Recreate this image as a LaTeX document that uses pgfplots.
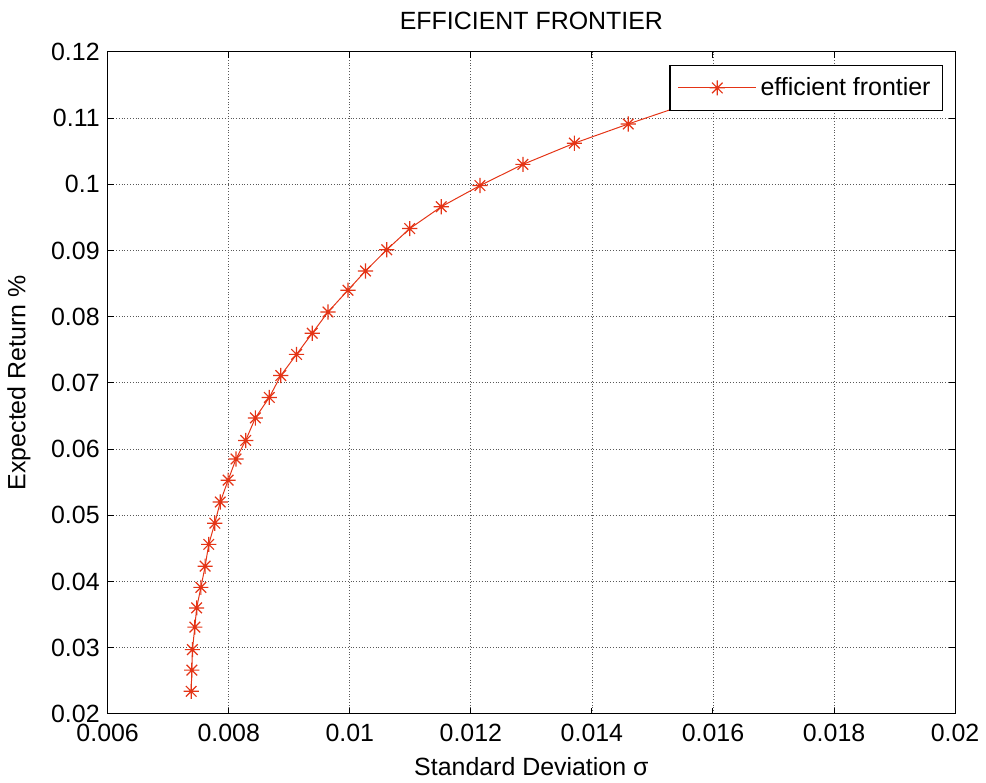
\documentclass[border=0pt]{standalone}
\usepackage{fontspec}
\setmainfont[Ligatures=NoCommon]{Liberation Sans}
\usepackage{pgfplots}
\pgfplotsset{compat=1.18}

% MATLAB-like '*' marker: plus and cross together
\pgfdeclareplotmark{mstar}{%
  \pgfpathmoveto{\pgfqpoint{-\pgfplotmarksize}{0pt}}%
  \pgfpathlineto{\pgfqpoint{\pgfplotmarksize}{0pt}}%
  \pgfpathmoveto{\pgfqpoint{0pt}{-\pgfplotmarksize}}%
  \pgfpathlineto{\pgfqpoint{0pt}{\pgfplotmarksize}}%
  \pgfpathmoveto{\pgfqpoint{-0.7\pgfplotmarksize}{-0.7\pgfplotmarksize}}%
  \pgfpathlineto{\pgfqpoint{0.7\pgfplotmarksize}{0.7\pgfplotmarksize}}%
  \pgfpathmoveto{\pgfqpoint{-0.7\pgfplotmarksize}{0.7\pgfplotmarksize}}%
  \pgfpathlineto{\pgfqpoint{0.7\pgfplotmarksize}{-0.7\pgfplotmarksize}}%
  \pgfusepathqstroke}

\definecolor{frontier}{RGB}{228,52,22}

\begin{document}
\begin{tikzpicture}
  \begin{axis}[
    scale only axis,
    width=425pt,
    height=332pt,
    xmin=0.006, xmax=0.02,
    ymin=0.02, ymax=0.12,
    xtick={0.006,0.008,0.01,0.012,0.014,0.016,0.018,0.02},
    xticklabels={0.006,0.008,0.01,0.012,0.014,0.016,0.018,0.02},
    ytick={0.02,0.03,0.04,0.05,0.06,0.07,0.08,0.09,0.1,0.11,0.12},
    yticklabels={0.02,0.03,0.04,0.05,0.06,0.07,0.08,0.09,0.1,0.11,0.12},
    scaled ticks=false,
    tick align=inside,
    major tick length=3pt,
    tick style={black, line width=0.5pt},
    axis line style={black, line width=0.6pt},
    grid=major,
    major grid style={densely dotted, black!65, line width=0.4pt},
    font=\fontsize{12.5}{14}\selectfont,
    tick label style={font=\fontsize{12.5}{14}\selectfont},
    xticklabel style={yshift=-1.5pt},
    yticklabel style={xshift=-0.5pt},
    title={EFFICIENT FRONTIER},
    title style={yshift=1.5pt, font=\fontsize{12.5}{14}\selectfont},
    xlabel={Standard Deviation σ},
    ylabel={Expected Return \%},
    xlabel style={yshift=-1pt},
    ylabel style={yshift=3.5pt},
    legend style={at={(rel axis cs:1,1)}, anchor=north east,
      xshift=-6pt, yshift=-6.5pt, draw=black, line width=0.6pt, fill=white,
      font=\fontsize{12.5}{14}\selectfont, inner xsep=4pt, inner ysep=4pt},
    legend cell align=left,
    legend image code/.code={%
      \draw[mark repeat=2, mark phase=2, #1]
        plot coordinates {(0pt,0pt) (19.5pt,0pt) (39pt,0pt)};},
  ]
    \addplot[color=frontier, line width=0.5pt, mark=mstar,
             mark size=3.8pt, mark options={line width=0.6pt}]
      coordinates {
        (0.00738,0.0234) (0.00739,0.0266) (0.00740,0.0297) (0.00744,0.0331)
        (0.00747,0.0360) (0.00754,0.0391) (0.00761,0.0423) (0.00767,0.0456)
        (0.00777,0.0488) (0.00786,0.0520) (0.00799,0.0553) (0.00812,0.0585)
        (0.00828,0.0613) (0.00844,0.0647) (0.00867,0.0678) (0.00886,0.0711)
        (0.00912,0.0743) (0.00938,0.0775) (0.00964,0.0807) (0.00997,0.0840)
        (0.01026,0.0869) (0.01061,0.0901) (0.01099,0.0933) (0.01151,0.0966)
        (0.01215,0.0998) (0.01286,0.1030) (0.01371,0.1062) (0.01460,0.1091)
        (0.01560,0.1122) (0.01670,0.1152)
      };
    \legend{efficient frontier}
  \end{axis}
  % white margins round the axis, as in the reference
  \path (current axis.north) -- ++(0pt,26pt);
  \path (current axis.south west) -- ++(-54pt,0pt);
  \path (current axis.south east) -- ++(14pt,0pt);
\end{tikzpicture}
\end{document}
